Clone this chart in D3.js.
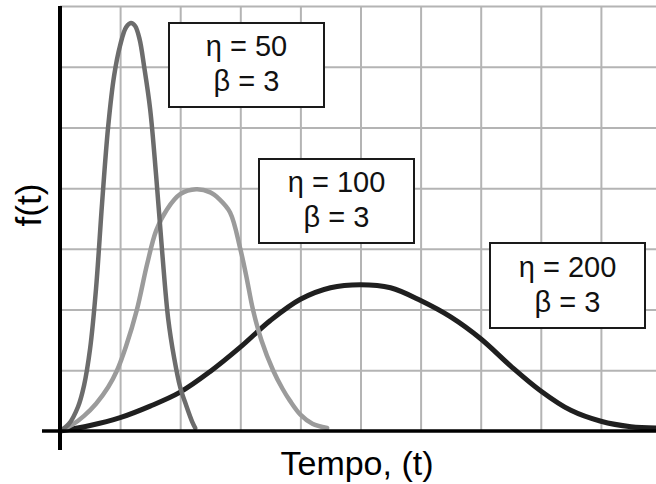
<!DOCTYPE html>
<html>
<head>
<meta charset="utf-8">
<script src="https://cdn.jsdelivr.net/npm/d3@7"></script>
<style>
  body { margin: 0; background: #fff; }
  svg { display: block; }
</style>
</head>
<body>
<svg id="chart" width="656" height="484"></svg>
<script>

// curve points: t in time units (one grid cell = 20), f in grid rows
var eta50_t  = [0, 3, 6, 8, 10, 12, 14, 16, 18, 20, 22, 23.6, 25, 26.5, 28, 30, 32, 34, 36, 38, 40, 42, 44, 45];
var eta50_f  = [0, 0.12, 0.4, 0.75, 1.35, 2.35, 3.75, 5.0, 5.85, 6.35, 6.65, 6.72, 6.67, 6.45, 6.0, 5.3, 4.2, 2.95, 1.85, 1.2, 0.72, 0.42, 0.15, 0.05];

var eta100_t = [0, 4, 8, 12, 16, 19, 22, 25.6, 29, 32, 35.6, 40, 45.3, 50, 53, 56.6, 60, 62, 64.2, 67, 70.9, 74, 76.5, 80, 84, 88.9];
var eta100_f = [0, 0.1, 0.25, 0.45, 0.72, 1.0, 1.4, 2.0, 2.75, 3.3, 3.65, 3.9, 3.98, 3.93, 3.82, 3.6, 3.0, 2.55, 2.0, 1.5, 1.0, 0.7, 0.5, 0.27, 0.12, 0.05];

var eta200_t = [0, 10, 20, 30, 40, 50, 60, 70, 80, 90, 100, 110, 120, 130, 140, 150, 160, 170, 180, 190, 198.5];
var eta200_f = [0, 0.09, 0.22, 0.41, 0.64, 0.98, 1.38, 1.82, 2.17, 2.36, 2.41, 2.36, 2.15, 1.88, 1.52, 1.07, 0.66, 0.34, 0.16, 0.07, 0.05];

var labels_eta = ['η = 50', 'η = 100', 'η = 200'];
var labels_beta = ['β = 3', 'β = 3', 'β = 3'];

var xTicks = [0, 20, 40, 60, 80, 100, 120, 140, 160, 180];
var yTicks = [1, 2, 3, 4, 5, 6, 7];

var svg = d3.select('#chart');

var x = d3.scaleLinear().domain([0, 200]).range([60, 661]);
var y = d3.scaleLinear().domain([0, 7]).range([431, 6]);

// grid
svg.append('g')
  .attr('transform', 'translate(0,431)')
  .call(d3.axisBottom(x).tickValues(xTicks.slice(1)).tickSize(-425).tickFormat(''))
  .call(g => g.select('.domain').remove())
  .selectAll('line').attr('stroke', '#b4b4b4').attr('stroke-width', 2);

svg.append('g')
  .attr('transform', 'translate(60,0)')
  .call(d3.axisLeft(y).tickValues(yTicks).tickSize(-600).tickFormat(''))
  .call(g => g.select('.domain').remove())
  .selectAll('line').attr('stroke', '#b4b4b4').attr('stroke-width', 2);

var line = d3.line()
  .x(d => x(d[0]))
  .y(d => y(d[1]))
  .curve(d3.curveCatmullRom.alpha(0.5));

var series = [
  { t: eta200_t, f: eta200_f, color: '#1f1f1f', w: 5 },
  { t: eta100_t, f: eta100_f, color: '#9b9b9b', w: 4.5 },
  { t: eta50_t,  f: eta50_f,  color: '#6c6c6c', w: 4.5 }
];

series.forEach(function(s){
  svg.append('path')
    .datum(d3.zip(s.t, s.f))
    .attr('d', line)
    .attr('fill', 'none')
    .attr('stroke', s.color)
    .attr('stroke-width', s.w)
    .attr('stroke-linecap', 'round');
});

// axes lines
svg.append('line')
  .attr('x1', 42).attr('x2', 656)
  .attr('y1', y(0)).attr('y2', y(0))
  .attr('stroke', '#000').attr('stroke-width', 3.5);
svg.append('line')
  .attr('x1', x(0)).attr('x2', x(0))
  .attr('y1', 6).attr('y2', 450)
  .attr('stroke', '#000').attr('stroke-width', 4);

// label boxes
var boxes = [
  { x0: 169, y0: 23, x1: 324, y1: 107 },
  { x0: 259, y0: 159, x1: 414, y1: 243 },
  { x0: 490, y0: 243, x1: 645, y1: 328 }
];

boxes.forEach(function(b, i){
  svg.append('rect')
    .attr('x', b.x0).attr('y', b.y0)
    .attr('width', b.x1 - b.x0).attr('height', b.y1 - b.y0)
    .attr('fill', '#fff')
    .attr('stroke', '#1a1a1a')
    .attr('stroke-width', 2);
  var cx = (b.x0 + b.x1) / 2;
  var cy = (b.y0 + b.y1) / 2;
  var txt = svg.append('text')
    .attr('text-anchor', 'middle')
    .style('font-family', '"Liberation Sans", Arial, sans-serif')
    .style('font-size', '29px')
    .attr('fill', '#111');
  txt.append('tspan').attr('x', cx).attr('y', cy - 9).text(labels_eta[i]);
  txt.append('tspan').attr('x', cx).attr('y', cy + 26).text(labels_beta[i]);
});

// axis titles
svg.append('text')
  .attr('x', 357).attr('y', 475)
  .attr('text-anchor', 'middle')
  .style('font-family', '"Liberation Sans", Arial, sans-serif')
  .style('font-size', '34px')
  .attr('fill', '#000')
  .text('Tempo, (t)');

svg.append('text')
  .attr('transform', 'translate(41,205) rotate(-90)')
  .attr('text-anchor', 'middle')
  .style('font-family', '"Liberation Sans", Arial, sans-serif')
  .style('font-size', '35px')
  .attr('fill', '#000')
  .text('f(t)');

</script>
</body>
</html>
